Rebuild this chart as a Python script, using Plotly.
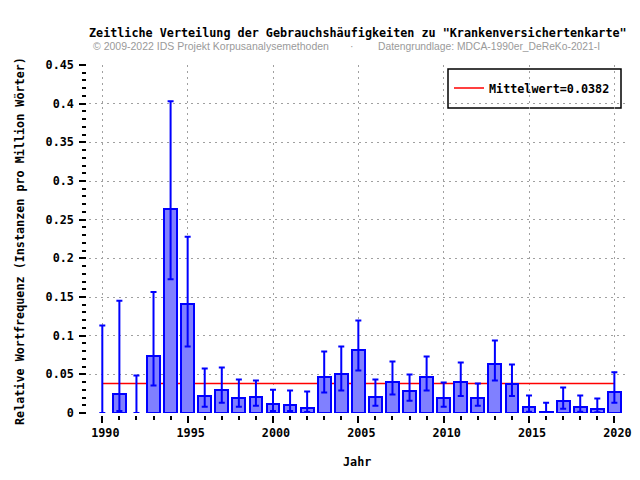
import plotly.graph_objects as go

years = list(range(1990, 2021))
values = [0.0, 0.0242, 0.0, 0.0743, 0.2636, 0.141, 0.0216, 0.0294, 0.019, 0.0203,
          0.0113, 0.010, 0.0069, 0.0463, 0.051, 0.0813, 0.0203, 0.0398, 0.0281, 0.0463,
          0.019, 0.0398, 0.019, 0.0631, 0.0372, 0.0073, 0.0017, 0.0151, 0.0073, 0.0048,
          0.0268]
upper = [0.113, 0.145, 0.0484, 0.1565, 0.403, 0.228, 0.0575, 0.0588, 0.0432, 0.042,
         0.0302, 0.029, 0.0277, 0.0795, 0.086, 0.1197, 0.0432, 0.0666, 0.0497, 0.073,
         0.0393, 0.0652, 0.038, 0.0938, 0.0627, 0.0225, 0.0134, 0.0329, 0.0225, 0.0186,
         0.0528]
lower = [0.0, 0.0026, 0.0, 0.0354, 0.173, 0.086, 0.0082, 0.0134, 0.0082, 0.0095,
         0.0026, 0.0026, 0.0013, 0.0264, 0.029, 0.0549, 0.0095, 0.0238, 0.016, 0.029,
         0.0082, 0.022, 0.0095, 0.0419, 0.022, 0.0017, 0.0, 0.0056, 0.0017, 0.001,
         0.0134]
mean_value = 0.0382
mean_label = "Mittelwert=0.0382"
x_ticks = [1990, 1995, 2000, 2005, 2010, 2015, 2020]
y_ticks = [0, 0.05, 0.1, 0.15, 0.2, 0.25, 0.3, 0.35, 0.4, 0.45]

MONO = "DejaVu Sans Mono"
SANS = "Liberation Sans"
BLUE = "#0000ff"
GREY = "#9a9a9a"
PW, PH = 538, 348  # plot area size in px (margins below)

fig = go.Figure()

fig.add_trace(go.Scatter(
    x=[years[0], years[-1]], y=[mean_value, mean_value], mode="lines",
    line=dict(color="#ff0000", width=1.5), name=mean_label, zorder=0,
    hoverinfo="skip",
))

fig.add_trace(go.Bar(
    x=years, y=[v if v > 0 else None for v in values], width=0.75,
    marker=dict(color="#8080ff", line=dict(color=BLUE, width=2)),
    showlegend=False, hoverinfo="skip", zorder=1,
))

fig.add_trace(go.Scatter(
    x=years, y=values, mode="markers",
    marker=dict(size=1, color="rgba(0,0,0,0)"),
    error_y=dict(type="data", symmetric=False,
                 array=[u - v for u, v in zip(upper, values)],
                 arrayminus=[v - l for v, l in zip(values, lower)],
                 color=BLUE, thickness=2, width=3),
    showlegend=False, hoverinfo="skip", zorder=2,
))

axis_common = dict(
    showline=True, linecolor="black", linewidth=2.5, mirror=True,
    showgrid=True, gridcolor="#a0a0a0", griddash="2px,4px", gridwidth=1,
    ticks="outside", tickcolor="black", tickwidth=2,
    tickfont=dict(family=MONO, size=11.75, color="black", weight="bold"),
    zeroline=False, automargin=False,
)

fig.update_xaxes(range=[1989.22, 2020.74], tickvals=x_ticks, ticklen=7,
                 ticklabelshift=3,
                 minor=dict(dtick=1, tick0=1990, ticks="outside", ticklen=4,
                            tickcolor="black", showgrid=False),
                 **axis_common)
fig.update_yaxes(range=[0, 0.45], tickvals=y_ticks, ticklen=7,
                 ticklabelstandoff=3,
                 minor=dict(dtick=0.01, tick0=0, ticks="outside", ticklen=4,
                            tickcolor="black", showgrid=False),
                 **axis_common)

# legend frame
fig.add_shape(type="rect", xref="paper", yref="paper",
              x0=(448 - 89) / PW, x1=(621 - 89) / PW,
              y0=1 - (108 - 65) / PH, y1=1 - (69 - 65) / PH,
              line=dict(color="black", width=1.5), fillcolor="white", layer="below")

fig.add_annotation(text='Zeitliche Verteilung der Gebrauchshäufigkeiten zu "Krankenversichertenkarte"',
                   xref="paper", yref="paper", x=(357.5 - 89) / PW, y=1 + (65 - 33) / PH, showarrow=False,
                   xanchor="center", yanchor="middle",
                   font=dict(family=MONO, size=11.75, color="black", weight="bold"))
fig.add_annotation(text="© 2009-2022 IDS Projekt Korpusanalysemethoden",
                   xref="paper", yref="paper", x=(91 - 89) / PW, y=1 + (65 - 46) / PH, showarrow=False,
                   xanchor="left", yanchor="middle",
                   font=dict(family=SANS, size=10.5, color=GREY))
fig.add_annotation(text="·",
                   xref="paper", yref="paper", x=(352 - 89) / PW, y=1 + (65 - 46) / PH, showarrow=False,
                   xanchor="center", yanchor="middle",
                   font=dict(family=SANS, size=10.5, color=GREY))
fig.add_annotation(text="Datengrundlage: MDCA-1990er_DeReKo-2021-I",
                   xref="paper", yref="paper", x=(376 - 89) / PW, y=1 + (65 - 46) / PH, showarrow=False,
                   xanchor="left", yanchor="middle",
                   font=dict(family=SANS, size=10.3, color=GREY))
fig.add_annotation(text="Relative Wortfrequenz (Instanzen pro Million Wörter)",
                   xref="paper", yref="paper", x=(20 - 89) / PW, y=1 - (241 - 65) / PH, showarrow=False,
                   textangle=-90, xanchor="center", yanchor="middle",
                   font=dict(family=MONO, size=11.75, color="black", weight="bold"))
fig.add_annotation(text="Jahr",
                   xref="paper", yref="paper", x=(357 - 89) / PW, y=-(462 - 413) / PH, showarrow=False,
                   xanchor="center", yanchor="middle",
                   font=dict(family=MONO, size=11.75, color="black", weight="bold"))

fig.update_layout(
    width=640, height=480,
    margin=dict(l=89, r=13, t=65, b=67, autoexpand=False),
    plot_bgcolor="white", paper_bgcolor="white",
    bargap=0,
    legend=dict(x=(449 - 89) / PW, y=1 - (88 - 65) / PH, xanchor="left", yanchor="middle",
                borderwidth=0, bgcolor="rgba(0,0,0,0)",
                font=dict(family=MONO, size=11.75, color="black", weight="bold")),
    showlegend=True,
)

fig.write_html("out.html", config={"displayModeBar": False},
               post_script="document.body.style.margin='0';")
